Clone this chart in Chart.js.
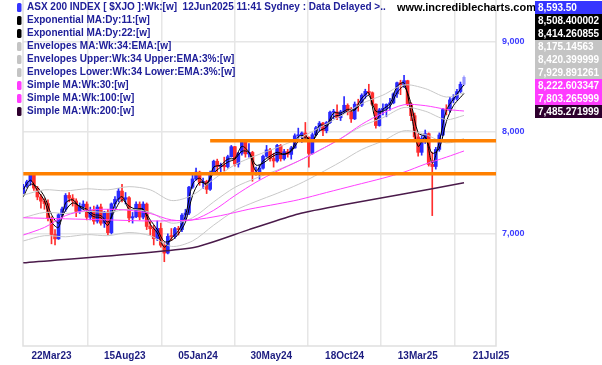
<!DOCTYPE html>
<html>
<head>
<meta charset="utf-8">
<script src="https://cdn.jsdelivr.net/npm/chart.js@4.4.1/dist/chart.umd.min.js"></script>
<style>
  html, body { margin: 0; padding: 0; background: #fff; }
  #wrap { width: 602px; height: 365px; }
</style>
</head>
<body>
<div id="wrap"><canvas id="xjoChart" width="602" height="365"></canvas></div>
<script>
// weekly candles, index 0 = week ending 20 Jan 2023, 125 = week of 12 Jun 2025
const opens = [
  7390,7452,7494,7559,7433,7347,7307,7284,7144,6995,
  6955,7178,7232,7362,7336,7309,7210,7255,7279,7155,
  7217,7118,7251,7099,7203,7012,7281,7325,7404,7325,
  7340,7148,7160,7278,7156,7279,7069,7048,6956,7051,
  6897,6827,6978,6976,7049,7040,7174,7194,7442,7523,
  7590,7489,7498,7421,7585,7699,7645,7659,7643,7745,
  7847,7670,7780,7896,7773,7788,7567,7575,7629,7749,
  7814,7727,7702,7860,7724,7796,7768,7834,7960,7971,
  7989,7943,7778,7971,8044,8092,8013,8099,8209,8212,
  8150,8214,8284,8211,8138,8296,8285,8394,8436,8421,
  8296,8067,8235,8250,8294,8310,8409,8532,8511,8555,
  8297,8172,7948,7789,7932,7982,7667,7646,7819,7968,
  8238,8231,8343,8361,8434,8515
];
const highs = [
  7470,7510,7570,7568,7450,7370,7330,7320,7160,7040,
  7190,7250,7380,7390,7370,7330,7290,7310,7300,7250,
  7260,7270,7280,7210,7230,7290,7350,7430,7470,7390,
  7350,7200,7300,7300,7300,7290,7120,7080,7120,7100,
  6920,7000,7050,7060,7070,7190,7230,7450,7560,7630,
  7600,7530,7510,7600,7710,7720,7680,7740,7760,7860,
  7850,7790,7910,7900,7880,7800,7640,7660,7760,7860,
  7830,7780,7870,7870,7820,7820,7850,7980,8040,8000,
  8100,7950,7990,8060,8110,8100,8110,8220,8240,8290,
  8230,8380,8300,8260,8320,8350,8410,8460,8515,8430,
  8300,8250,8300,8300,8360,8420,8540,8560,8615,8560,
  8310,8200,7980,7960,8020,7990,7790,7840,7990,8250,
  8290,8370,8400,8460,8540,8610
];
const lows = [
  7380,7440,7460,7410,7320,7240,7230,7120,6910,6900,
  6950,7150,7210,7300,7260,7160,7190,7230,7130,7130,
  7090,7100,7080,7060,6990,7000,7240,7300,7300,7280,
  7110,7100,7150,7130,7140,7040,6990,6900,6940,6880,
  6750,6820,6940,6960,6990,7020,7120,7180,7430,7510,
  7460,7430,7380,7410,7570,7580,7570,7600,7630,7740,
  7650,7640,7760,7740,7740,7500,7560,7520,7620,7740,
  7700,7640,7690,7700,7710,7740,7720,7830,7900,7890,
  7930,7640,7770,7960,8010,7960,7990,8090,8140,8130,
  8120,8200,8180,8100,8130,8220,8270,8360,8400,8280,
  8040,8060,8180,8160,8230,8300,8370,8400,8480,8280,
  8120,7930,7750,7760,7880,7650,7170,7620,7800,7960,
  8180,8210,8310,8340,8420,8500
];
const closes = [
  7452,7494,7559,7433,7347,7307,7284,7144,6995,6955,
  7178,7232,7362,7336,7309,7210,7255,7279,7155,7217,
  7118,7251,7099,7203,7012,7281,7325,7404,7325,7340,
  7148,7160,7278,7156,7279,7069,7048,6956,7051,6897,
  6827,6978,6976,7049,7040,7174,7194,7442,7523,7590,
  7489,7498,7421,7585,7699,7645,7659,7643,7745,7847,
  7670,7780,7896,7773,7788,7567,7575,7629,7749,7814,
  7727,7702,7860,7724,7796,7768,7834,7960,7971,7989,
  7943,7778,7971,8044,8092,8013,8099,8209,8212,8150,
  8214,8284,8211,8138,8296,8285,8394,8436,8421,8296,
  8067,8235,8250,8294,8310,8409,8532,8511,8555,8297,
  8172,7948,7789,7932,7982,7667,7646,7819,7968,8238,
  8231,8343,8361,8434,8515,8593
];

const emaIdx = [0,2,4,6,8,10,12,14,16,18,20,22,24,26,28,30,32,34,36,38,40,42,44,46,48,50,52,54,56,58,60,62,
  64,66,68,70,72,74,76,78,80,82,84,86,88,90,92,94,96,98,100,102,104,106,108,110,112,114,116,118,120,122,124,125];
const ema11 = [7420,7510,7410,7310,7110,7060,7290,7320,7250,7210,7160,7150,7080,7280,7350,7230,7230,7230,7090,7010,
  6880,6960,7030,7170,7470,7530,7460,7640,7660,7720,7730,7850,7790,7600,7700,7750,7790,7770,7810,7950,
  7960,7900,8070,8070,8200,8200,8240,8240,8360,8420,8130,8240,8300,8490,8530,8200,7850,7950,7680,7900,
  8230,8350,8460,8508];
const ema22 = [7350,7470,7440,7350,7180,7100,7220,7290,7260,7230,7180,7170,7110,7220,7320,7260,7230,7230,7130,7040,
  6930,6940,7000,7110,7360,7490,7480,7580,7640,7690,7720,7800,7790,7660,7680,7730,7770,7770,7800,7900,
  7940,7910,8010,8050,8160,8180,8220,8230,8320,8390,8220,8220,8270,8420,8490,8300,7990,7950,7780,7830,
  8110,8280,8370,8414];

const maIdx = [0,6,12,18,24,30,36,42,48,54,60,66,72,78,84,90,96,102,108,114,120,125];
const ema34 = [7150,7200,7190,7210,7200,7230,7200,7100,7150,7300,7440,7530,7610,7700,7810,7930,8060,8150,8260,8220,8130,8175];
const envUpper = [7365,7416,7406,7426,7416,7447,7416,7313,7365,7519,7663,7756,7838,7931,8044,8168,8302,8395,8508,8467,8374,8420];
const envLower = [6936,6984,6974,6994,6984,7013,6984,6887,6936,7081,7217,7304,7382,7469,7576,7692,7818,7906,8012,7973,7886,7930];
const sma30 = [6990,7060,7170,7220,7230,7220,7190,7130,7130,7220,7360,7490,7600,7700,7810,7930,8080,8200,8290,8280,8240,8222];

const sma100Idx = [0,12,24,36,48,56,64,72,78,86,94,102,108,114,120,125];
const sma100 = [7150,7140,7130,7120,7130,7170,7230,7280,7320,7390,7460,7530,7590,7670,7740,7803];

const sma200Idx = [0,48,64,78,92,107,125];
const sma200 = [6740,6875,7040,7186,7280,7370,7485];

// hand drawn support lines
const supportLevels = [7574, 7909];
const supportFrom = [0, 53];

const yTickVals = [7000, 8000, 9000];
const xTickPos = [8.0, 28.78, 49.56, 70.34, 91.12, 111.9, 132.68];
const xTickLabels = ['22Mar23', '15Aug23', '05Jan24', '30May24', '18Oct24', '13Mar25', '21Jul25'];

const legendLabels = [
  'ASX 200 INDEX [ $XJO ]:Wk:[w]  12Jun2025 11:41 Sydney : Data Delayed >..',
  'Exponential MA:Dy:11:[w]',
  'Exponential MA:Dy:22:[w]',
  'Envelopes MA:Wk:34:EMA:[w]',
  'Envelopes Upper:Wk:34 Upper:EMA:3%:[w]',
  'Envelopes Lower:Wk:34 Lower:EMA:3%:[w]',
  'Simple MA:Wk:30:[w]',
  'Simple MA:Wk:100:[w]',
  'Simple MA:Wk:200:[w]'
];
const legendColors = ['#3535ff', '#000000', '#000000', '#c4c4c4', '#c4c4c4', '#c4c4c4', '#ff3cff', '#ff3cff', '#2e002e'];
const lastValues = ['8,593.50', '8,508.400002', '8,414.260855', '8,175.14563', '8,420.399999', '7,929.891261', '8,222.603347', '7,803.265999', '7,485.271999'];

const plotBottom = 346;
const xMin = -0.085, xMax = 134.08;
const yMin = 6045, yMax = 9508;

const UP = '#2a2aff', DOWN = '#ff2e2e', LAST = 'rgba(110,110,255,0.5)';
const FONT = '"Liberation Sans", Arial, sans-serif';

function candleColor(i) {
  if (i === closes.length - 1) return LAST;
  return closes[i] >= opens[i] ? UP : DOWN;
}

function pts(idx, vals) {
  return idx.map((x, k) => ({ x: x, y: vals[k] }));
}

function maLine(data, color, width, tension) {
  return {
    type: 'line', data: data, borderColor: color, borderWidth: width,
    pointRadius: 0, fill: false, tension: tension, order: 5
  };
}

const datasets = [
  {
    type: 'bar', label: 'wick',
    data: closes.map((c, i) => ({ x: i, y: [lows[i], highs[i]] })),
    backgroundColor: closes.map((c, i) => candleColor(i)),
    barThickness: 1, grouped: false, order: 10
  },
  {
    type: 'bar', label: 'body',
    data: closes.map((c, i) => ({ x: i, y: [Math.min(opens[i], c), Math.max(opens[i], c)] })),
    backgroundColor: closes.map((c, i) => candleColor(i)),
    barThickness: 3, minBarLength: 1, grouped: false, order: 10
  },
  maLine(pts(sma200Idx, sma200), '#4a1a4a', 1.5, 0.2),
  maLine(pts(sma100Idx, sma100), '#ff40ff', 1, 0.3),
  maLine(pts(maIdx, sma30), '#ff40ff', 1, 0.3),
  maLine(pts(maIdx, envLower), '#c8c8c8', 1, 0.3),
  maLine(pts(maIdx, envUpper), '#c8c8c8', 1, 0.3),
  maLine(pts(maIdx, ema34), '#c8c8c8', 1, 0.3),
  maLine(pts(emaIdx, ema22), '#000000', 1, 0.3),
  maLine(pts(emaIdx, ema11), '#000000', 1, 0.3)
];
supportLevels.forEach((lvl, k) => {
  datasets.push({
    type: 'line', data: [{ x: supportFrom[k], y: lvl }, { x: xMax, y: lvl }],
    borderColor: '#ff8000', borderWidth: 3.5, pointRadius: 0, fill: false, order: 0
  });
});

const overlay = {
  id: 'overlay',
  beforeDatasetsDraw(chart) {
    const ctx = chart.ctx, a = chart.chartArea;
    ctx.save();
    ctx.strokeStyle = '#e0e0e0';
    ctx.lineWidth = 1.5;
    ctx.beginPath();
    ctx.moveTo(a.left, a.top); ctx.lineTo(a.left, a.bottom);
    ctx.lineTo(a.right, a.bottom); ctx.lineTo(a.right, a.top);
    ctx.stroke();
    ctx.restore();
  },
  afterDraw(chart) {
    const ctx = chart.ctx;
    ctx.save();
    ctx.textBaseline = 'middle';
    ctx.font = 'bold 10px ' + FONT;
    legendLabels.forEach((t, i) => {
      const y = 7.5 + i * 13;
      ctx.fillStyle = legendColors[i];
      ctx.beginPath();
      ctx.roundRect(17, y - 4.5, 4.5, 9, 1.5);
      ctx.fill();
      ctx.fillStyle = '#20209a';
      ctx.fillText(t, 27, y);
    });
    ctx.font = 'bold 11px ' + FONT;
    ctx.fillStyle = '#000';
    ctx.fillText('www.incrediblecharts.com', 397, 7.5);

    ctx.font = 'bold 10px ' + FONT;
    lastValues.forEach((v, i) => {
      const y = 1 + i * 13;
      ctx.fillStyle = legendColors[i];
      ctx.fillRect(535, y, 67, 13);
      ctx.fillStyle = '#fff';
      ctx.fillText(v, 538, y + 6.8);
    });
    ctx.restore();
  }
};

new Chart(document.getElementById('xjoChart').getContext('2d'), {
  type: 'bar',
  data: { datasets: datasets },
  options: {
    responsive: false,
    animation: false,
    devicePixelRatio: 1,
    layout: { padding: { left: 23, top: 0, right: 0, bottom: 0 } },
    plugins: { legend: { display: false }, tooltip: { enabled: false } },
    scales: {
      x: {
        type: 'linear', min: xMin, max: xMax, offset: false,
        afterBuildTicks: s => { s.ticks = xTickPos.map(v => ({ value: v })); },
        afterFit: s => { s.height = 365 - plotBottom; s.paddingLeft = 0; s.paddingRight = 0; },
        grid: { color: '#e6e6e6', lineWidth: 1.5, drawTicks: false },
        border: { display: false },
        ticks: {
          padding: 4, color: '#1c1c80', autoSkip: false, maxRotation: 0,
          font: { family: FONT, size: 10, weight: 'bold' },
          callback: (v, i) => xTickLabels[i]
        }
      },
      y: {
        type: 'logarithmic', position: 'right', min: yMin, max: yMax,
        afterBuildTicks: s => { s.ticks = yTickVals.map(v => ({ value: v })); },
        afterFit: s => { s.width = 106; s.paddingTop = 0; s.paddingBottom = 0; },
        grid: { color: '#e6e6e6', lineWidth: 1.5, drawTicks: false },
        border: { display: false },
        ticks: {
          padding: 6, color: '#3c3cff',
          font: { family: FONT, size: 9, weight: 'bold' },
          callback: v => v.toLocaleString('en-US')
        }
      }
    }
  },
  plugins: [overlay]
});
</script>
</body>
</html>
